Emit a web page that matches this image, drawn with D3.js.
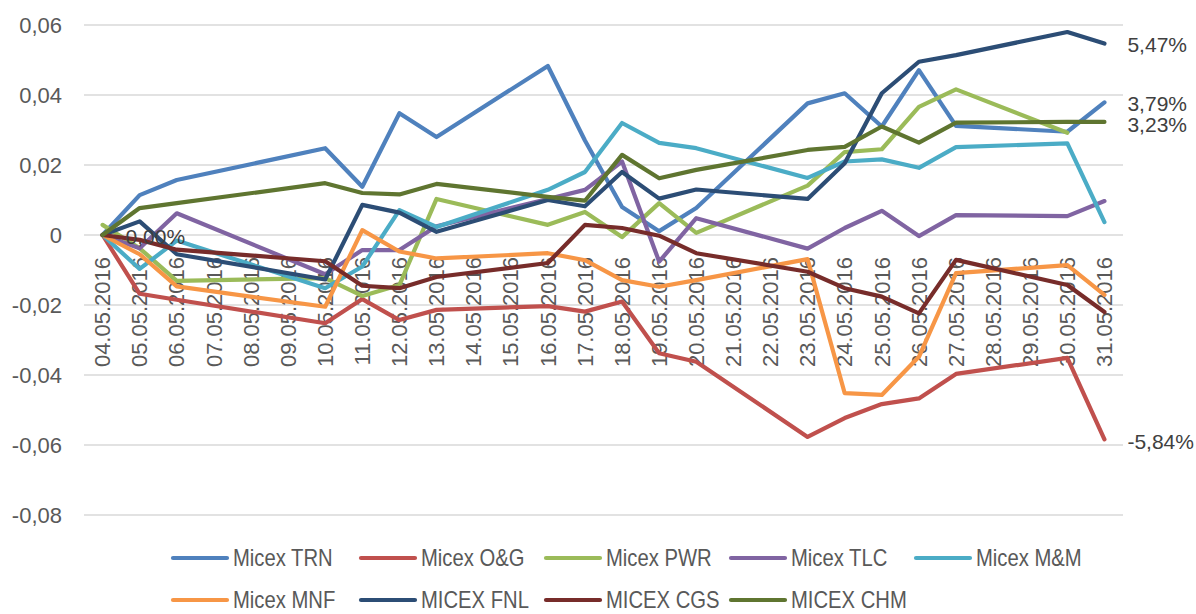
<!DOCTYPE html>
<html>
<head>
<meta charset="utf-8">
<script src="https://cdn.jsdelivr.net/npm/d3@7"></script>
<style>
    body { margin: 0; background: #fff; }
    svg { display: block; }
</style>
</head>
<body>
<svg id="chart"></svg>
<script>
// trading days only, weekends / holidays left empty (line is drawn straight through them)
const dates = ["04.05.2016", "05.05.2016", "06.05.2016", "07.05.2016", "08.05.2016", "09.05.2016", "10.05.2016",
    "11.05.2016", "12.05.2016", "13.05.2016", "14.05.2016", "15.05.2016", "16.05.2016", "17.05.2016", "18.05.2016",
    "19.05.2016", "20.05.2016", "21.05.2016", "22.05.2016", "23.05.2016", "24.05.2016", "25.05.2016", "26.05.2016",
    "27.05.2016", "28.05.2016", "29.05.2016", "30.05.2016", "31.05.2016"]

const n = null
const trn = [0, 0.0114, 0.0157, n, n, n, 0.0248, 0.0138, 0.0348, 0.028, n, n, 0.0483, 0.027, 0.008, 0.0011, 0.0077, n, n, 0.0376, 0.0405, 0.031, 0.0471, 0.0312, n, n, 0.0295, 0.0379]
const og = [0, -0.0168, -0.0185, n, n, n, -0.0252, -0.0183, -0.0243, -0.0214, n, n, -0.0203, -0.0219, -0.019, -0.0338, -0.0362, n, n, -0.0577, -0.0523, -0.0483, -0.0467, -0.0397, n, n, -0.0351, -0.0584]
const pwr = [0.0029, -0.0038, -0.0131, n, n, n, -0.0123, -0.0174, -0.0143, 0.0103, n, n, 0.0029, 0.0066, -0.0006, 0.0091, 0.0006, n, n, 0.0141, 0.0237, 0.0245, 0.0366, 0.0416, n, n, 0.0292, n]
const tlc = [0, -0.0038, 0.0062, n, n, n, -0.0112, -0.0043, -0.0043, 0.0025, n, n, 0.0103, 0.0129, 0.021, -0.0076, 0.0048, n, n, -0.0039, 0.002, 0.0069, -0.0003, 0.0057, n, n, 0.0054, 0.0097]
const mm = [0, -0.0097, -0.0016, n, n, n, -0.0152, -0.009, 0.0071, 0.0023, n, n, 0.0129, 0.018, 0.032, 0.0263, 0.0248, n, n, 0.0163, 0.021, 0.0216, 0.0192, 0.0251, n, n, 0.0262, 0.0037]
const mnf = [0, -0.0055, -0.0147, n, n, n, -0.0205, 0.0014, -0.0047, -0.0067, n, n, -0.0052, -0.0072, -0.0129, -0.0148, -0.0129, n, n, -0.0069, -0.0452, -0.0457, -0.0348, -0.0109, n, n, -0.0086, -0.0171]
const fnl = [0, 0.0039, -0.0055, n, n, n, -0.0127, 0.0086, 0.0064, 0.0009, n, n, 0.01, 0.0082, 0.018, 0.0104, 0.013, n, n, 0.0103, 0.0205, 0.0405, 0.0495, 0.0514, n, n, 0.058, 0.0547]
const cgs = [0, -0.0014, -0.0042, n, n, n, -0.0075, -0.0145, -0.0152, -0.012, n, n, -0.008, 0.0029, 0.002, -0.0002, -0.0052, n, n, -0.0105, -0.0152, -0.0176, -0.0224, -0.0071, n, n, -0.0143, -0.022]
const chm = [0, 0.0077, 0.0091, n, n, n, 0.0148, 0.012, 0.0116, 0.0146, n, n, 0.0109, 0.0098, 0.0229, 0.0162, 0.0186, n, n, 0.0243, 0.0252, 0.031, 0.0264, 0.0321, n, n, 0.0323, 0.0323]

const seriesNames = ["Micex TRN", "Micex O&G", "Micex PWR", "Micex TLC", "Micex M&M", "Micex MNF", "MICEX FNL", "MICEX CGS", "MICEX CHM"]
const seriesValues = [trn, og, pwr, tlc, mm, mnf, fnl, cgs, chm]
const colors = ["#4f81bd", "#c0504d", "#9bbb59", "#8064a2", "#4bacc6", "#f79646", "#2c4d75", "#772c2a", "#5f7530"]
const yTicks = [-0.08, -0.06, -0.04, -0.02, 0, 0.02, 0.04, 0.06]

// data labels: series index, point index, small vertical nudge
const labelled = [[6, 27, 1], [0, 27, 1], [8, 27, 3], [1, 27, 2], [7, 0, 2]]

const width = 1196
const height = 614
const font = "'Liberation Sans', Arial, sans-serif"

const ru = d3.formatLocale({ decimal: ",", thousands: " ", grouping: [3], currency: ["", ""], minus: "-" })
const tickFmt = v => v === 0 ? "0" : ru.format(".2f")(v)
const pctFmt = ru.format(".2%")

const svg = d3.select("#chart")
    .attr("width", width)
    .attr("height", height)

const x = d3.scaleBand().domain(dates).range([84, 1123])
const y = d3.scaleLinear().domain([-0.08, 0.06]).range([515, 25])
const cx = d => x(d) + x.bandwidth() / 2

// gridlines
svg.append("g")
    .selectAll("line")
    .data(yTicks)
    .join("line")
    .attr("x1", 84)
    .attr("x2", 1123)
    .attr("y1", d => y(d))
    .attr("y2", d => y(d))
    .attr("stroke", "#d9d9d9")
    .attr("stroke-width", 1.3)

// y axis labels
const yAxis = svg.append("g")
    .attr("transform", "translate(84,0)")
    .call(d3.axisLeft(y).tickValues(yTicks).tickFormat(tickFmt).tickSize(0).tickPadding(22))
yAxis.select(".domain").remove()
yAxis.selectAll("text")
    .attr("font-family", font)
    .attr("font-size", 22)
    .attr("fill", "#595959")

// x axis labels, vertical, hanging below the zero line
const xAxis = svg.append("g")
    .attr("transform", `translate(0,${y(0)})`)
    .call(d3.axisBottom(x).tickSize(0).tickPadding(0))
xAxis.select(".domain").remove()
xAxis.selectAll("text")
    .attr("font-family", font)
    .attr("font-size", 22)
    .attr("fill", "#595959")
    .attr("text-anchor", "end")
    .attr("transform", "translate(0,22) rotate(-90)")
    .attr("x", 0)
    .attr("y", 0)
    .attr("dy", "0.35em")

// lines
const line = d3.line()
    .x(d => cx(d.date))
    .y(d => y(d.value))

const seriesData = seriesNames.map((name, i) => ({
    name: name,
    color: colors[i],
    points: dates.map((date, j) => ({ date: date, value: seriesValues[i][j] }))
        .filter(p => p.value !== null)
}))

svg.append("g")
    .attr("fill", "none")
    .selectAll("path")
    .data(seriesData)
    .join("path")
    .attr("stroke", d => d.color)
    .attr("stroke-width", 4.2)
    .attr("stroke-linejoin", "round")
    .attr("stroke-linecap", "round")
    .attr("d", d => line(d.points))

// data labels
svg.append("g")
    .selectAll("text")
    .data(labelled)
    .join("text")
    .attr("x", d => cx(dates[d[1]]) + 23)
    .attr("y", d => y(seriesValues[d[0]][d[1]]) + d[2])
    .attr("dy", "0.35em")
    .attr("font-family", font)
    .attr("font-size", 21)
    .attr("fill", "#404040")
    .text(d => pctFmt(seriesValues[d[0]][d[1]]))

// legend (narrow face imitated by squeezing the text)
const legendCols = [172, 360, 545, 730, 915]
const legend = svg.append("g")
    .selectAll("g")
    .data(seriesData)
    .join("g")
    .attr("transform", (d, i) => `translate(${legendCols[i % 5]},${i < 5 ? 558 : 600})`)

legend.append("line")
    .attr("x1", 1)
    .attr("x2", 55)
    .attr("stroke", d => d.color)
    .attr("stroke-width", 4.2)
    .attr("stroke-linecap", "round")

legend.append("text")
    .attr("transform", "translate(61,0) scale(0.88,1)")
    .attr("dy", "0.36em")
    .attr("font-family", font)
    .attr("font-size", 23)
    .attr("fill", "#595959")
    .text(d => d.name)
</script>
</body>
</html>
